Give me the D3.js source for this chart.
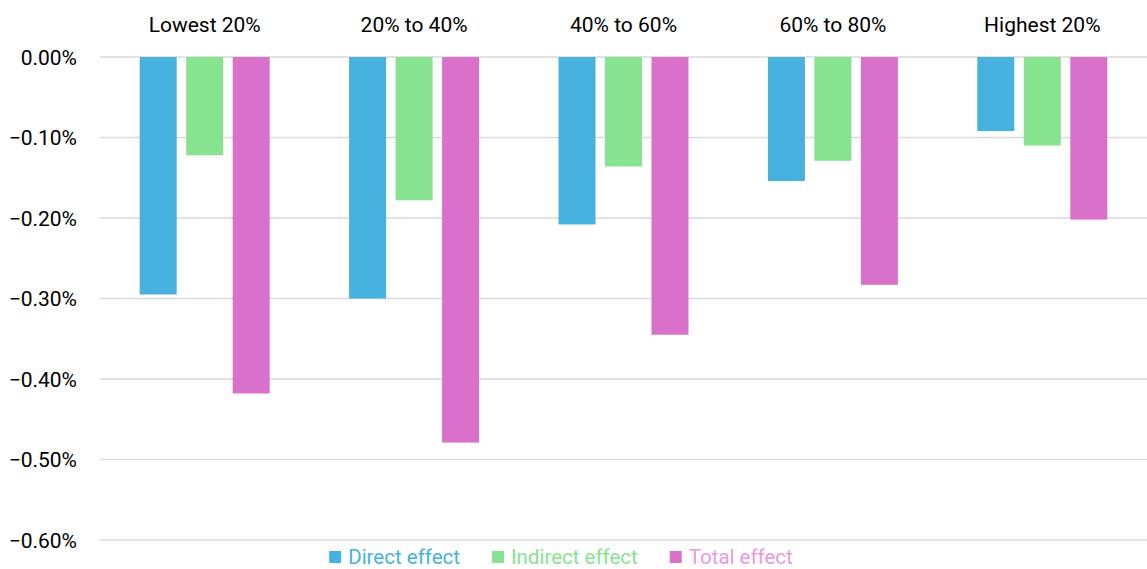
<!DOCTYPE html>
<html>
<head>
<meta charset="utf-8">
<script src="https://cdn.jsdelivr.net/npm/d3@7"></script>
<style>
  body { margin: 0; background: #fff; }
  text { font-family: Roboto, "Liberation Sans", sans-serif; fill: #000; }
</style>
</head>
<body>
<svg id="chart" width="1147" height="569"></svg>
<script>
var categories = ["Lowest 20%", "20% to 40%", "40% to 60%", "60% to 80%", "Highest 20%"];
var seriesNames = ["Direct effect", "Indirect effect", "Total effect"];
var directEffect = [-0.295, -0.300, -0.208, -0.154, -0.092];
var indirectEffect = [-0.122, -0.178, -0.136, -0.129, -0.110];
var totalEffect = [-0.418, -0.479, -0.345, -0.283, -0.202];
var yTicks = [0, -0.1, -0.2, -0.3, -0.4, -0.5, -0.6];

var colors = ["#47B1E0", "#88E390", "#D970CA"];
var legendText = ["#47B1E0", "#88E390", "#E89ADF"];

var svg = d3.select("#chart");
var plotLeft = 100, plotRight = 1147, plotTop = 57, plotBottom = 540;

var y = d3.scaleLinear().domain([0, -0.6]).range([plotTop, plotBottom]);
var x0 = d3.scaleBand().domain(categories).range([plotLeft, plotRight]);
var groupW = 130;
var x1 = d3.scaleBand().domain(seriesNames).range([0, groupW]).paddingInner(0.204);

// gridlines
svg.append("g").selectAll("line")
  .data(yTicks)
  .join("line")
  .attr("x1", plotLeft).attr("x2", plotRight)
  .attr("y1", function (d) { return y(d); })
  .attr("y2", function (d) { return y(d); })
  .attr("stroke", "#d9d9d9")
  .attr("stroke-width", 1.5);

// y labels
svg.append("g").selectAll("text")
  .data(yTicks)
  .join("text")
  .attr("x", 77)
  .attr("y", function (d) { return y(d); })
  .attr("dy", "0.36em")
  .attr("text-anchor", "end")
  .style("font-size", "21px")
  .text(function (d) { return d3.format(".2f")(d) + "%"; });

// category labels at the top
svg.append("g").selectAll("text")
  .data(categories)
  .join("text")
  .attr("x", function (d) { return x0(d) + x0.bandwidth() / 2; })
  .attr("y", 32)
  .attr("text-anchor", "middle")
  .style("font-size", "21px")
  .text(function (d) { return d; });

var rows = [];
categories.forEach(function (c, i) {
  rows.push({ cat: c, s: seriesNames[0], v: directEffect[i], k: 0 });
  rows.push({ cat: c, s: seriesNames[1], v: indirectEffect[i], k: 1 });
  rows.push({ cat: c, s: seriesNames[2], v: totalEffect[i], k: 2 });
});

var offset = (x0.bandwidth() - groupW) / 2;
svg.append("g").selectAll("rect")
  .data(rows)
  .join("rect")
  .attr("x", function (d) { return x0(d.cat) + offset + x1(d.s); })
  .attr("y", y(0))
  .attr("width", x1.bandwidth())
  .attr("height", function (d) { return y(d.v) - y(0); })
  .attr("fill", function (d) { return colors[d.k]; });

// legend
var legend = svg.append("g");
var lx = 0;
seriesNames.forEach(function (name, i) {
  var g = legend.append("g").attr("transform", "translate(" + lx + ",0)");
  g.append("rect").attr("x", 0).attr("y", -13).attr("width", 12).attr("height", 12)
    .attr("fill", colors[i]);
  var t = g.append("text").attr("x", 19).attr("y", 0)
    .style("font-size", "20.5px")
    .style("fill", legendText[i])
    .text(name);
  lx += 19 + t.node().getComputedTextLength() + 32;
});
lx -= 32;
legend.attr("transform", "translate(" + (561 - lx / 2) + ",564)");
</script>
</body>
</html>
